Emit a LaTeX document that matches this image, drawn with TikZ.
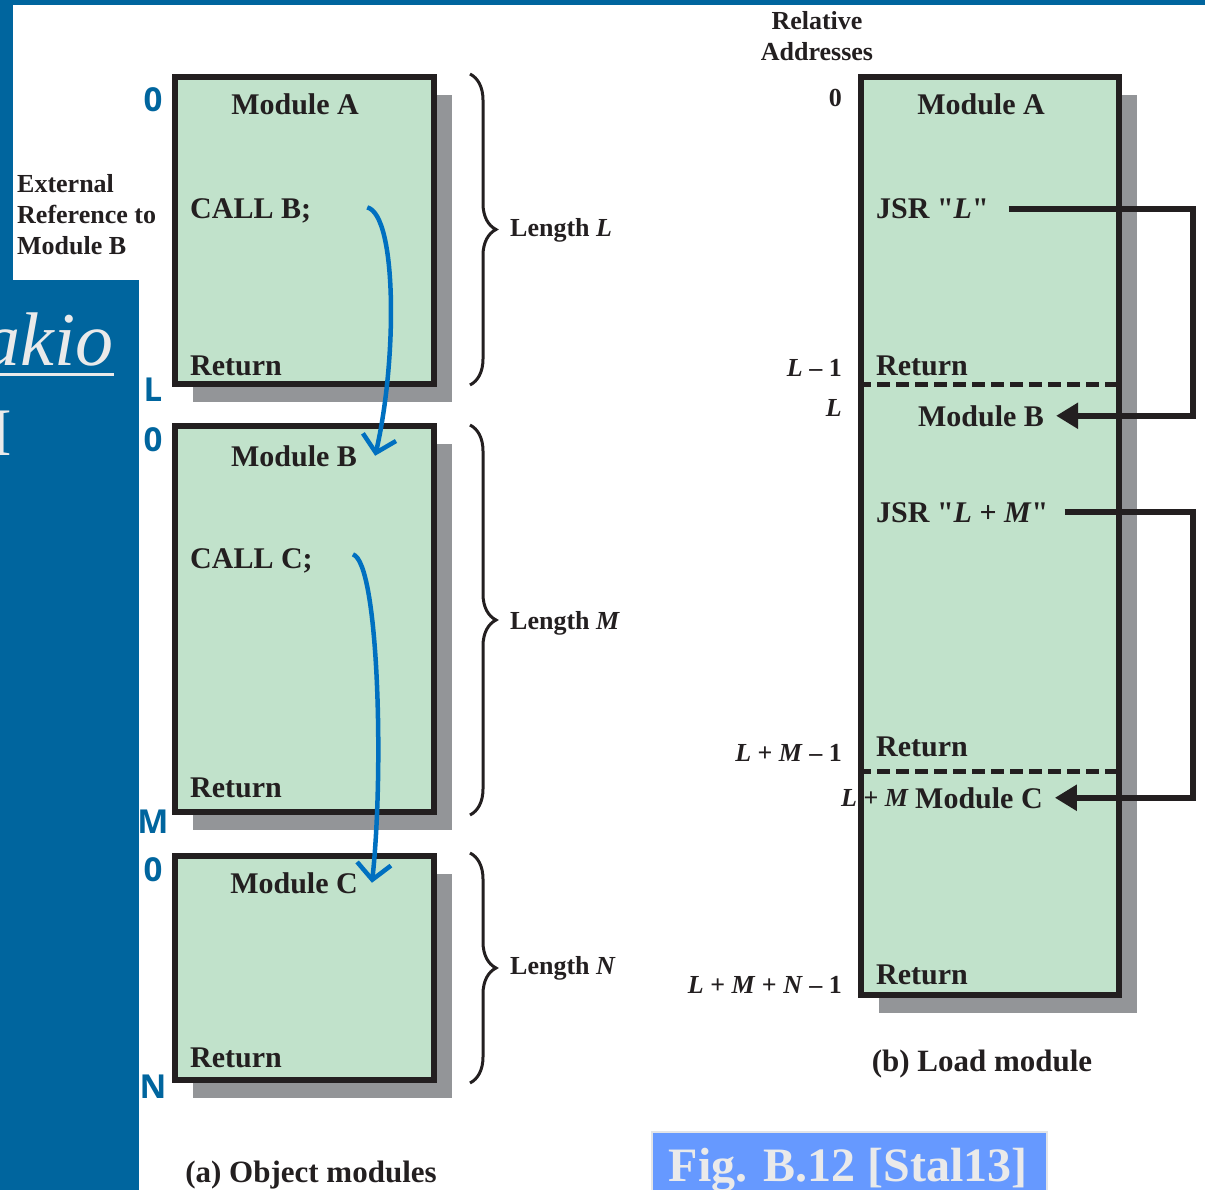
\documentclass[tikz,border=0pt]{standalone}
\usepackage{fontspec}
\setmainfont{Liberation Serif}[Ligatures=TeXOff]
\newfontfamily\lblfont{Open Sans}
\usepackage{tikz}
\usetikzlibrary{arrows.meta, decorations.pathreplacing, shadows}
\definecolor{SlideBlue}{RGB}{0,101,158}
\definecolor{CallBlue}{RGB}{0,112,192}
\definecolor{ModGreen}{RGB}{193,226,203}
\definecolor{ShadowGray}{RGB}{147,149,152}
\definecolor{InkBlack}{RGB}{35,31,32}
\definecolor{FigBlue}{RGB}{102,153,255}
\definecolor{FigEdge}{RGB}{226,228,232}
\definecolor{PaleGray}{RGB}{234,234,234}

\begin{document}
\begin{tikzpicture}[x=1pt, y=-1pt,
          mod/.style={rectangle, draw=InkBlack, line width=6pt, fill=ModGreen,
                      minimum width=259pt, inner sep=0pt,
                      general shadow={fill=ShadowGray, shadow xshift=18pt,
                                      shadow yshift=-18pt}},
          big/.style={font=\fontsize{30}{34}\selectfont\bfseries,
                      text=InkBlack, inner sep=0pt},
          small/.style={font=\fontsize{26}{31}\selectfont\bfseries,
                        text=InkBlack, inner sep=0pt},
          adr/.style={font=\lblfont\fontsize{33}{36}\selectfont\bfseries,
                      text=SlideBlue, inner sep=0pt},
          call/.style={-{Straight Barb[length=16pt, width=34pt]},
                       line width=4.5pt, CallBlue},
          jump/.style={-{Triangle[length=22pt, width=25pt]}, line width=6pt,
                       InkBlack},
          brc/.style={decorate, decoration={brace, amplitude=26pt},
                      line width=3pt, InkBlack},
          sepline/.style={line width=5pt, InkBlack, dash pattern=on 13pt off 6pt}
        ]
        \useasboundingbox (0,0) rectangle (1205,1190);
        \clip (0,0) rectangle (1205,1190);

        % Slide background (left)
        \fill[SlideBlue] (0,0) rectangle (1205,5);
        \fill[SlideBlue] (0,0) rectangle (13,280);
        \fill[SlideBlue] (0,280) rectangle (139,1190);
        \node[font=\fontsize{76}{80}\selectfont\itshape, text=PaleGray,
              inner sep=0pt, anchor=base east] (slideword) at (114,365) {akio};
        \draw[PaleGray, line width=3pt] (0,374) -- (114,374);
        \node[font=\fontsize{68}{72}\selectfont, text=PaleGray,
              inner sep=0pt, anchor=base east] (slideI) at (12,455) {I};

        % Object modules (left)
        \node[mod, minimum height=307pt] (objA) at (304.5,230.5) {};
        \node[mod, minimum height=386pt] (objB) at (304.5,619) {};
        \node[mod, minimum height=224pt] (objC) at (304.5,968) {};
        \foreach \y/\t [count=\i] in {100/0, 390/L, 440/0, 822/M, 870/0, 1087/N}
          \node[adr] (adr\i) at (153,\y) {\t};

        \node[big, anchor=base] (titA) at (295,115) {Module A};
        \node[big, anchor=base west] (callB) at (190,219) {CALL B;};
        \node[big, anchor=base west] (retA) at (190,375) {Return};
        \node[big, anchor=base] (titB) at (294,466) {Module B};
        \node[big, anchor=base west] (callC) at (190,568) {CALL C;};
        \node[big, anchor=base west] (retB) at (190,797) {Return};
        \node[big, anchor=base] (titC) at (294,893) {Module C};
        \node[big, anchor=base west] (retC) at (190,1067) {Return};

        \node[small, align=left, anchor=north west] (extref) at (17,174)
          {External\\Reference to\\Module B};

        \foreach \t/\b/\ly/\n in {74/385/237/L, 425/815/629/M, 853/1083/974/N} {
          \draw[brc] (470,\t) -- (470,\b);
          \node[small, anchor=base west] (len\n) at (510,\ly) {Length \textit{\n}};
        }

        \draw[call] ([xshift=56pt, yshift=4pt]callB.east)
          .. controls +(30,8) and +(22,-95) .. ([xshift=18pt]titB.east);
        \draw[call] ([xshift=40pt, yshift=6pt]callC.east)
          .. controls +(26,8) and +(12,-110) .. ([xshift=14pt]titC.east);

        \node[big, font=\fontsize{31}{34}\selectfont\bfseries, anchor=base]
          (capA) at (311,1182) {(a) Object modules};

        % Load module (right)
        \node[small, align=center, anchor=north] (reladdr) at (817,11)
          {Relative\\Addresses};
        \node[mod, minimum width=258pt, minimum height=918pt] (load) at (990,536) {};
        \coordinate (cutB) at (0,384);
        \coordinate (cutC) at (0,771);
        \draw[sepline] (load.west |- cutB) -- (load.east |- cutB);
        \draw[sepline] (load.west |- cutC) -- (load.east |- cutC);

        \node[small, anchor=base east] (rel0) at (842,107) {0};
        \node[small, anchor=base east] (relL1) at (842,376) {\textit{L} – 1};
        \node[small, anchor=base east] (relL) at (842,416) {\textit{L}};
        \node[small, anchor=base east] (relLM1) at (842,761) {\textit{L} + \textit{M} – 1};
        \node[small, anchor=base west] (relLM) at (841,806) {\textit{L} + \textit{M}};
        \node[small, anchor=base east] (relLMN1) at (842,993)
          {\textit{L} + \textit{M} + \textit{N} – 1};

        \node[big, anchor=base] (ldA) at (981,115) {Module A};
        \node[big, anchor=base west] (jsrL) at (876,219) {JSR "\textit{L}"};
        \node[big, anchor=base west] (ldRetA) at (876,375) {Return};
        \node[big, anchor=base] (ldB) at (981,426) {Module B};
        \node[big, anchor=base west] (jsrLM) at (876,522) {JSR "\textit{L} + \textit{M}"};
        \node[big, anchor=base west] (ldRetB) at (876,756) {Return};
        \node[big, anchor=base west] (ldC) at (915,808) {Module C};
        \node[big, anchor=base west] (ldRetC) at (876,984) {Return};

        \coordinate (loopx) at (1193,0);
        \draw[jump] ([xshift=20pt]jsrL.east) -| (loopx |- ldB.east)
          -- ([xshift=12pt]ldB.east);
        \draw[jump] ([xshift=16pt]jsrLM.east) -| (loopx |- ldC.east)
          -- ([xshift=12pt]ldC.east);

        \node[big, font=\fontsize{31}{34}\selectfont\bfseries, anchor=base]
          (capB) at (982,1071) {(b) Load module};

        % Figure reference
        \node[rectangle, fill=FigBlue, draw=FigEdge, line width=2pt,
              minimum width=395pt, minimum height=80pt, inner sep=0pt,
              anchor=north] (figbox) at (849.5,1131) {};
        \node[font=\fontsize{48}{52}\selectfont\bfseries, text=PaleGray,
              inner sep=0pt, anchor=base] (figref) at (848,1181) {Fig. B.12 [Stal13]};
      \end{tikzpicture}
\end{document}
